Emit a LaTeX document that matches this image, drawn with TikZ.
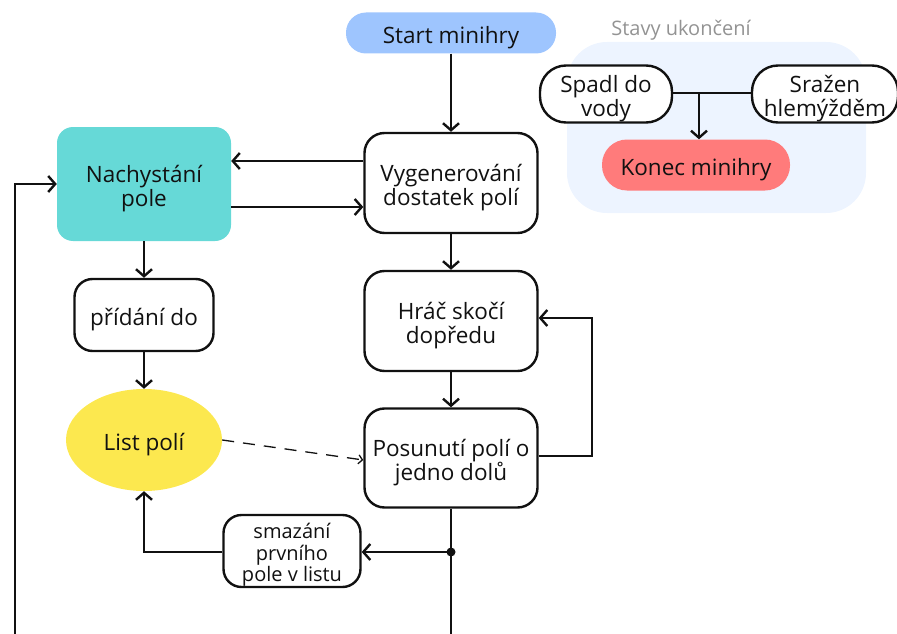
\documentclass[tikz,border=0pt]{standalone}
\usepackage{fontspec}
\setmainfont{Open Sans}
\usetikzlibrary{arrows.meta,shapes.geometric,calc,backgrounds}
\definecolor{startblue}{HTML}{9EC5FE}
\definecolor{teal}{HTML}{66D9D7}
\definecolor{yell}{HTML}{FCE84F}
\definecolor{redend}{HTML}{FF7B7B}
\definecolor{bgblue}{HTML}{EDF4FF}
\definecolor{ink}{HTML}{111111}
\tikzset{
  x=1pt,y=-1pt,
  every node/.style={font=\fontsize{22.5}{23.5}\selectfont, text=ink, align=center, inner sep=0pt},
  txt/.style={label={[align=center,yshift=-4.5pt]center:#1}},
  stxt/.style={label={[align=center,yshift=-4pt,font=\fontsize{20}{21.5}\selectfont]center:#1}},
  box/.style={draw=ink, line width=2.4pt, rounded corners=20pt, fill=white},
  pill/.style={rounded corners=20pt},
  conn/.style={draw=ink, line width=2.4pt},
  arr/.style={conn, -{Straight Barb[length=7pt,width=16pt,line width=2.4pt]}},
  darr/.style={draw=ink, line width=1.3pt, dash pattern=on 12pt off 9pt, -{Straight Barb[length=4pt,width=9pt,line width=1.3pt]}},
}
\begin{document}
\begin{tikzpicture}
\useasboundingbox (0,0) rectangle (897,634);
% background group
\fill[bgblue, rounded corners=40pt] (567,42) rectangle (866,213);
\node[text=gray!85, font=\fontsize{20}{22}\selectfont] (stavy) at (681,30) {Stavy ukončení};

\node[pill, fill=startblue, minimum width=210pt, minimum height=41pt, txt={Start minihry}] (start) at (451,33) {};
\node[box, rounded corners=26pt, minimum width=132pt, minimum height=57pt, txt={Spadl do\\vody}] (spadl) at (606,94) {};
\node[box, rounded corners=26pt, minimum width=146pt, minimum height=57pt, txt={Sražen\\hlemýžděm}] (srazen) at (825,94) {};
\node[pill, rounded corners=25pt, fill=redend, minimum width=188pt, minimum height=51pt, txt={Konec minihry}] (konec) at (696,165) {};

\node[box, minimum width=173pt, minimum height=100pt, txt={Vygenerování\\dostatek polí}] (vyg) at (451,183) {};
\node[rounded corners=16pt, fill=teal, minimum width=174pt, minimum height=114pt, txt={Nachystání\\pole}] (nach) at (144,184) {};
\node[box, rounded corners=18pt, minimum width=139pt, minimum height=72pt, txt={přídání do}] (prid) at (144,315) {};
\node[ellipse, fill=yell, minimum width=156pt, minimum height=102pt, txt={List polí}] (list) at (144,440) {};
\node[box, minimum width=173pt, minimum height=100pt, txt={Hráč skočí\\dopředu}] (hrac) at (451,321) {};
\node[box, minimum width=173pt, minimum height=99pt, txt={Posunutí polí o\\jedno dolů}] (pos) at (451,458) {};
\node[box, rounded corners=18pt, minimum width=137pt, minimum height=72pt, stxt={smazání\\prvního\\pole v listu}] (smaz) at (292,551) {};

\coordinate (j) at (451,552);
\coordinate (bot) at (451,634);
\coordinate (lft) at (15,634);
\coordinate (mid) at (699,93);
\coordinate (rl) at (592,456);

% connectors
\draw[arr] (start) -- (vyg);
\draw[arr] ($(vyg.west)+(0,-22)$) -- (nach.east |- {$(vyg.west)+(0,-22)$});
\draw[arr] ($(nach.east)+(0,23)$) -- (vyg.west |- {$(nach.east)+(0,23)$});
\draw[arr] (lft) |- (nach.west);
\draw[arr] (nach) -- (prid);
\draw[arr] (prid) -- (list);
\draw[arr] (vyg) -- (hrac);
\draw[arr] (hrac) -- (pos);
\draw[arr] (pos.east |- rl) -- (rl) |- ($(hrac.east)+(0,-3)$);
\draw[conn] (pos) -- (bot);
\fill[ink] (j) circle (4.5pt);
\draw[arr] (j) -- (smaz.east |- j);
\draw[arr] (smaz.west |- j) -| (list.south);
\draw[darr] (list.east) -- ($(pos.west)+(0,2)$);
\draw[conn] (spadl.east |- mid) -- (srazen.west |- mid);
\draw[arr] (mid) -- (konec.north -| mid);
\end{tikzpicture}
\end{document}
